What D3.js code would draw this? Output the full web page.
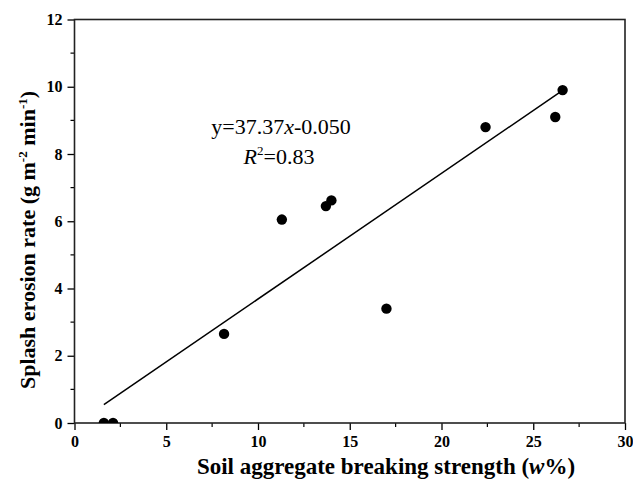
<!DOCTYPE html>
<html>
<head>
<meta charset="utf-8">
<script src="https://cdn.jsdelivr.net/npm/d3@7"></script>
<style>
  body { margin: 0; background: #fff; }
  text { font-family: "Liberation Serif", "Times New Roman", serif; }
  .tick text { font-size: 16px; font-weight: bold; }
</style>
</head>
<body>
<div id="chart"></div>
<script>
// measured points (w%, g m-2 min-1)
const strength = [1.6, 2.1, 8.15, 11.3, 13.7, 14.0, 17.0, 22.4, 26.2, 26.6];
const erosion = [0, 0, 2.65, 6.05, 6.45, 6.62, 3.4, 8.8, 9.1, 9.9];
// fitted line y = 37.37x - 0.050 (x as fraction)
const fitSlope = 37.37;
const fitIntercept = -0.050;
const fitRange = [1.6, 26.6];
const xTicks = [0, 5, 10, 15, 20, 25, 30];
const yTicks = [0, 2, 4, 6, 8, 10, 12];

const width = 633, height = 481;
const margin = {top: 19.5, right: 8, bottom: 58, left: 74.5};
const w = width - margin.left - margin.right;
const h = height - margin.top - margin.bottom;

const svg = d3.select("#chart").append("svg")
    .attr("width", width)
    .attr("height", height);

const g = svg.append("g")
    .attr("transform", "translate(" + margin.left + "," + margin.top + ")");

const x = d3.scaleLinear().domain([0, 30]).range([0, w]);
const y = d3.scaleLinear().domain([0, 12]).range([h, 0]);

// clip for the markers sitting on the axis
g.append("clipPath").attr("id", "plotClip")
    .append("rect").attr("width", w).attr("height", h);

// minor ticks
const xMinor = d3.range(2.5, 30, 5);
const yMinor = d3.range(1, 12, 2);
g.selectAll(".xminor").data(xMinor).enter().append("line")
    .attr("x1", d => x(d)).attr("x2", d => x(d))
    .attr("y1", h).attr("y2", h + 4)
    .attr("stroke", "#000").attr("stroke-width", 1.2);
g.selectAll(".yminor").data(yMinor).enter().append("line")
    .attr("y1", d => y(d)).attr("y2", d => y(d))
    .attr("x1", 0).attr("x2", -4)
    .attr("stroke", "#000").attr("stroke-width", 1.2);

// axes
const xAxis = g.append("g")
    .attr("transform", "translate(0," + h + ")")
    .call(d3.axisBottom(x).tickValues(xTicks).tickSize(7).tickPadding(6).tickSizeOuter(0));
const yAxis = g.append("g")
    .call(d3.axisLeft(y).tickValues(yTicks).tickSize(7).tickPadding(5).tickSizeOuter(0));

[xAxis, yAxis].forEach(a => {
    a.select(".domain").remove();
    a.selectAll(".tick line").attr("stroke", "#000").attr("stroke-width", 1.3);
    a.selectAll(".tick text").attr("fill", "#000");
});

// frame
g.append("rect")
    .attr("width", w).attr("height", h)
    .attr("fill", "none")
    .attr("stroke", "#222")
    .attr("stroke-width", 1.6);

// fit line
g.append("line")
    .attr("x1", x(fitRange[0])).attr("y1", y(fitSlope * fitRange[0] / 100 + fitIntercept))
    .attr("x2", x(fitRange[1])).attr("y2", y(fitSlope * fitRange[1] / 100 + fitIntercept))
    .attr("stroke", "#000").attr("stroke-width", 1.5);

// points
g.append("g").attr("clip-path", "url(#plotClip)")
    .selectAll("circle").data(strength).enter().append("circle")
    .attr("cx", d => x(d))
    .attr("cy", (d, i) => y(erosion[i]))
    .attr("r", 5.2)
    .attr("fill", "#000");

// equation
const eq = svg.append("text")
    .attr("x", 281).attr("y", 134)
    .attr("text-anchor", "middle")
    .style("font-size", "22px");
eq.append("tspan").text("y=37.37");
eq.append("tspan").style("font-style", "italic").text("x");
eq.append("tspan").text("-0.050");

const r2 = svg.append("text")
    .attr("x", 279).attr("y", 164)
    .attr("text-anchor", "middle")
    .style("font-size", "22px");
r2.append("tspan").style("font-style", "italic").text("R");
r2.append("tspan").attr("dy", -9).style("font-size", "13px").text("2");
r2.append("tspan").attr("dy", 9).text("=0.83");

// axis titles
const xl = svg.append("text")
    .attr("x", 386).attr("y", 474)
    .attr("text-anchor", "middle")
    .style("font-size", "23px").style("font-weight", "bold");
xl.append("tspan").text("Soil aggregate breaking strength (");
xl.append("tspan").style("font-style", "italic").text("w");
xl.append("tspan").text("%)");

const yl = svg.append("text")
    .attr("transform", "translate(35,240) rotate(-90)")
    .attr("text-anchor", "middle")
    .style("font-size", "22px").style("font-weight", "bold");
yl.append("tspan").text("Splash erosion rate (g m");
yl.append("tspan").attr("dy", -8).style("font-size", "13px").text("-2");
yl.append("tspan").attr("dy", 8).text(" min");
yl.append("tspan").attr("dy", -8).style("font-size", "13px").text("-1");
yl.append("tspan").attr("dy", 8).text(")");
</script>
</body>
</html>
